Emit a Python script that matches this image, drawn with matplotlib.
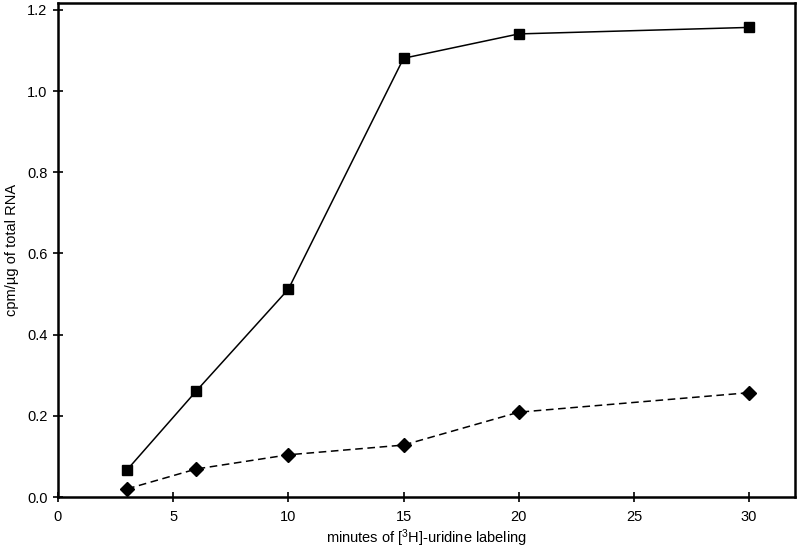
import matplotlib
matplotlib.use("Agg")
import matplotlib.pyplot as plt

# time points (minutes) and label incorporation
minutes = [3, 6, 10, 15, 20, 30]
total_cpm = [0.067, 0.261, 0.512, 1.081, 1.141, 1.157]
other_cpm = [0.020, 0.069, 0.104, 0.128, 0.209, 0.257]

plt.rcParams['font.family'] = ['Liberation Sans', 'DejaVu Sans']
plt.rcParams['mathtext.default'] = 'regular'

fig = plt.figure(figsize=(8, 5.47), dpi=100)
ax = fig.add_axes([0.0725, 0.0914, 0.9215, 0.903])

ax.plot(minutes, total_cpm, color='black', lw=1.1, marker='s', ms=7,
        markerfacecolor='black', markeredgecolor='black')
ax.plot(minutes, other_cpm, color='black', lw=1.1, ls=(0, (5, 3)), marker='D', ms=7.5,
        markerfacecolor='black', markeredgecolor='black')

ax.set_xlim(0, 32)
ax.set_ylim(0, 1.217)
ax.set_xticks([0, 5, 10, 15, 20, 25, 30])
ax.set_yticks([0.0, 0.2, 0.4, 0.6, 0.8, 1.0, 1.2])
ax.set_yticklabels(['%.1f' % v for v in ax.get_yticks()])

for s in ax.spines.values():
    s.set_linewidth(1.8)
ax.tick_params(direction='inout', length=7, width=1.2, labelsize=10.5)
ax.tick_params(axis='x', pad=6)
ax.tick_params(axis='y', pad=4)

ax.set_xlabel('minutes of [$^{3}$H]-uridine labeling', fontsize=10.5, labelpad=2)
ax.set_ylabel('cpm/\u00b5g of total RNA', fontsize=10.5, labelpad=6)

fig.savefig('out.png', dpi=100)
